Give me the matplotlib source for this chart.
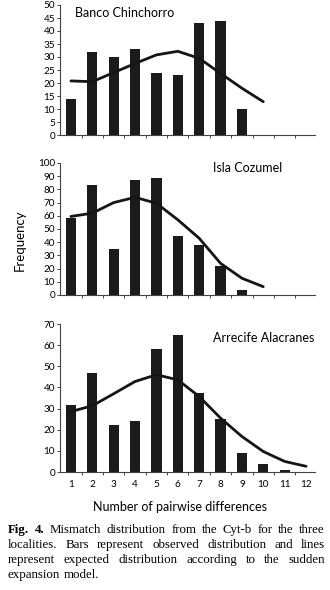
import matplotlib
matplotlib.use("Agg")
import matplotlib.pyplot as plt

W, H = 330, 590
DPI = 100

# ---- data ----
x_pos = list(range(1, 13))
x_labels = [str(i) for i in x_pos]

banco_obs = [14, 32, 30, 33, 24, 23, 43, 44, 10]
banco_exp = [20.8, 20.5, 24, 27.5, 30.8, 32.2, 29.5, 23.7, 18, 12.8]

cozumel_obs = [58, 83, 35, 87, 89, 45, 38, 22, 4]
cozumel_exp = [59.5, 62, 70, 74, 69.5, 57, 43, 24, 12.7, 6.3]

alacranes_obs = [31.5, 47, 22, 24, 58, 65, 37.5, 25, 9, 4, 1]
alacranes_exp = [28.6, 31.3, 37, 42.8, 46, 43.6, 35.7, 25.5, 16.8, 9.7, 5, 2.7]

panels = [
    ("Banco Chinchorro", banco_obs, banco_exp, 50, 5, (5, 135), (75, 13, "left")),
    ("Isla Cozumel", cozumel_obs, cozumel_exp, 100, 10, (163, 295), (213, 168, "left")),
    ("Arrecife Alacranes", alacranes_obs, alacranes_exp, 70, 10, (324, 472), (213, 338, "left")),
]

SANS = ["Lato", "DejaVu Sans"]
SERIF = ["Liberation Serif", "DejaVu Serif"]
BAR_C = "#1b1b1b"
AX_C = "#444444"

fig = plt.figure(figsize=(W / DPI, H / DPI), dpi=DPI)
fig.patch.set_facecolor("white")

x_left, x_right = 60, 315
for i, (name, obs, exp, ytop, ystep, (ptop, pbot), (tx, ty, ha)) in enumerate(panels):
    ax = fig.add_axes([x_left / W, 1 - pbot / H, (x_right - x_left) / W, (pbot - ptop) / H])
    ax.bar(range(1, len(obs) + 1), obs, width=0.48, color=BAR_C, zorder=2)
    ax.plot(range(1, len(exp) + 1), exp, color="#151515", lw=2.0, zorder=3,
            solid_joinstyle="round", solid_capstyle="round")
    ax.set_xlim(0.49, 12.42)
    ax.set_ylim(0, ytop)
    ax.set_yticks(range(0, ytop + 1, ystep))
    for s in ("top", "right"):
        ax.spines[s].set_visible(False)
    for s in ("left", "bottom"):
        ax.spines[s].set_color(AX_C)
        ax.spines[s].set_linewidth(0.8)
    ax.tick_params(axis="y", direction="out", length=2.5, width=0.7, color=AX_C,
                   labelsize=7.2, pad=1)
    ax.set_xticks([k + 0.5 for k in range(1, 12)])
    ax.set_xticklabels([])
    ax.tick_params(axis="x", which="major", direction="out", length=2, width=0.7, color=AX_C)
    for lab in ax.get_yticklabels():
        lab.set_family(SANS)
    if i == 2:
        ax.set_xticks(x_pos, minor=True)
        ax.set_xticklabels(x_labels, minor=True, family=SANS)
        ax.tick_params(axis="x", which="minor", length=0, labelsize=7.2, pad=6)
    fig.text(tx / W, 1 - ty / H, name, ha=ha, va="center", fontsize=9, family=SANS)

fig.text(20 / W, 1 - 240 / H, "Frequency", rotation=90, ha="center", va="center",
         fontsize=9.5, family=SANS)
fig.text(180 / W, 1 - 507 / H, "Number of pairwise differences", ha="center", va="center",
         fontsize=9, family=SANS)

# ---- justified caption ----
caption_lines = [
    [("Fig.", "bold"), ("4.", "bold"), ("Mismatch", "normal"), ("distribution", "normal"),
     ("from", "normal"), ("the", "normal"), ("Cyt-b", "normal"), ("for", "normal"),
     ("the", "normal"), ("three", "normal")],
    [(w, "normal") for w in "localities. Bars represent observed distribution and lines".split()],
    [(w, "normal") for w in "represent expected distribution according to the sudden".split()],
    [(w, "normal") for w in "expansion model.".split()],
]
cx0, cx1 = 8, 325
cy = [530, 545, 560, 575]
fig.canvas.draw()
renderer = fig.canvas.get_renderer()
CAP_FS = 9.3
for li, words in enumerate(caption_lines):
    texts = []
    widths = []
    for w, wt in words:
        t = fig.text(0, 1 - cy[li] / H, w, fontsize=CAP_FS, family=SERIF, fontweight=wt,
                     ha="left", va="center")
        bb = t.get_window_extent(renderer=renderer)
        texts.append(t)
        widths.append(bb.width)
    if li < len(caption_lines) - 1:
        gap = ((cx1 - cx0) - sum(widths)) / (len(words) - 1)
    else:
        gap = 3
    x = cx0
    for t, wd in zip(texts, widths):
        t.set_x(x / W)
        x += wd + gap

fig.savefig("out.png", dpi=DPI, facecolor="white")
